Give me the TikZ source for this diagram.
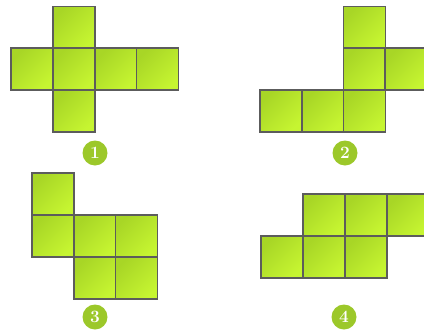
\documentclass[tikz,border=0pt]{standalone}
\usepackage{xcolor}
\usetikzlibrary{positioning}
\definecolor{netLimeDark}{HTML}{A8D626}
\definecolor{netLimeLight}{HTML}{C6F531}
\definecolor{netEdge}{HTML}{5C5C5C}
\definecolor{netBadge}{HTML}{9CC82A}
\tikzset{
  face/.style={
    draw=netEdge,
    line width=1.1pt,
    top color=netLimeDark,
    bottom color=netLimeLight,
    shading angle=45,
    minimum size=42pt,
    inner sep=0pt
  },
  badge/.style={
    circle,
    fill=netBadge,
    text=white,
    minimum size=25pt,
    inner sep=0pt,
    font=\LARGE\bfseries
  }
}

\begin{document}
\begin{tikzpicture}[x=1pt,y=-1pt]
  \useasboundingbox (0,0) rectangle (424,333);

  % net 1
  \foreach \cx/\cy [count=\i] in {74/27.5, 32/69, 74/69, 116/69, 157.5/69, 74/111}
    \node[face] (a\i) at (\cx,\cy) {};
  \node[badge] (num1) at (95,153) {1};

  % net 2
  \foreach \cx/\cy [count=\i] in {364.5/27.5, 364.5/69, 406/69, 281/111, 323/111, 364.5/111}
    \node[face] (b\i) at (\cx,\cy) {};
  \node[badge] (num2) at (345,153) {2};

  % net 3
  \foreach \cx/\cy [count=\i] in {53/194, 53/236, 95/236, 136.5/236, 95/278, 136.5/278}
    \node[face] (c\i) at (\cx,\cy) {};
  \node[badge] (num3) at (95,317) {3};

  % net 4
  \foreach \cx/\cy [count=\i] in {324/215, 366/215, 408/215, 282/257, 324/257, 366/257}
    \node[face] (d\i) at (\cx,\cy) {};
  \node[badge] (num4) at (344,317) {4};
\end{tikzpicture}
\end{document}
